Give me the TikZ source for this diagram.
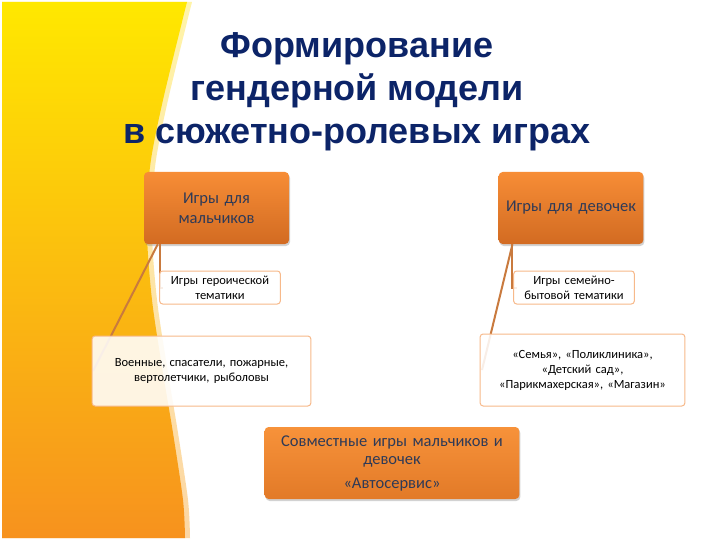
\documentclass[tikz,border=0pt]{standalone}
\usepackage{fontspec}
\setmainfont{Carlito}
\newfontfamily\titlefont{Liberation Sans}
\usetikzlibrary{shadows}
\definecolor{titleblue}{HTML}{0C2468}
\definecolor{boxtext}{HTML}{2E3A57}
\definecolor{orangetop}{HTML}{F78D36}
\definecolor{orangebot}{HTML}{D26B22}
\definecolor{orangetop2}{HTML}{F7923A}
\definecolor{orangebot2}{HTML}{E27A28}
\definecolor{lightborder}{HTML}{F7B98A}
\definecolor{conncol}{HTML}{C97A3E}
\definecolor{bgtop}{HTML}{FFE800}
\definecolor{bgbot}{HTML}{F7921E}
\definecolor{bandtop}{HTML}{FFF4A8}
\definecolor{bandbot}{HTML}{FCD6A4}
\tikzset{
  bigbox/.style={rectangle, rounded corners=4pt, top color=orangetop, bottom color=orangebot,
    text=boxtext, align=center, font=\fontsize{16.5}{20}\selectfont,
    drop shadow={shadow xshift=1pt, shadow yshift=-2pt, opacity=0.35}},
  smallbox/.style={rectangle, rounded corners=3pt, draw=lightborder, line width=1pt,
    fill=white, fill opacity=0.88, text opacity=1, text=black, align=center,
    font=\fontsize{12.5}{15}\selectfont},
  conn/.style={draw=conncol, line width=2pt}
}
\begin{document}
\begin{tikzpicture}[x=1pt,y=-1pt]
\useasboundingbox (0,0) rectangle (720,540);
\fill[white] (0,0) rectangle (720,540);
% background band and shape
\shade[top color=bandtop, bottom color=bandbot]
  (2,2) -- plot[smooth] coordinates {(192,2) (168,100) (155,167) (152,233) (157,300) (167,367) (178,433) (188,500) (190,538)} -- (2,538) -- cycle;
\shade[top color=bgtop, bottom color=bgbot]
  (2,2) -- plot[smooth] coordinates {(187,2) (163,100) (150,167) (147,233) (152,300) (162,367) (173,433) (183,500) (185,538)} -- (2,538) -- cycle;
% title
\node[anchor=north, inner sep=0pt, align=center, text=titleblue,
  font=\titlefont\bfseries\fontsize{36}{43}\selectfont] (title) at (357,32)
  {Формирование\\гендерной модели\\в сюжетно-ролевых играх};
% top boxes
\node[bigbox, minimum width=145pt, minimum height=72pt, text width=138pt] (b1) at (216.5,208) {Игры для\\мальчиков};
\node[bigbox, minimum width=144pt, minimum height=72pt, text width=138pt] (b2) at (571,208) {Игры для девочек};
% connectors
\draw[conn] ([xshift=16pt]b1.south west) |- (163,287.5);
\draw[conn] ([xshift=14pt]b1.south west) -- (93,371);
\draw[conn] ([xshift=14pt]b2.south west) |- (517,287.5);
\draw[conn] ([xshift=14pt]b2.south west) -- (482,370);
% small boxes
\node[smallbox, minimum width=116pt, minimum height=33pt, text width=114pt] (b3) at (220,287.5) {Игры героической\\тематики};
\node[smallbox, minimum width=116pt, minimum height=33pt, text width=114pt] (b5) at (574,287.5) {Игры семейно-\\бытовой тематики};
\node[smallbox, minimum width=217pt, minimum height=70pt, text width=212pt] (b4) at (201.5,371) {Военные, спасатели, пожарные,\\вертолетчики, рыболовы};
\node[smallbox, minimum width=201pt, minimum height=72pt, text width=198pt] (b6) at (582.5,370) {«Семья», «Поликлиника»,\\«Детский сад»,\\«Парикмахерская», «Магазин»};
% bottom box
\node[bigbox, top color=orangetop2, bottom color=orangebot2, minimum width=252pt, minimum height=72pt, text width=248pt, font=\fontsize{16.5}{18}\selectfont] (b7) at (392,463)
  {Совместные игры мальчиков и\\девочек\\[6pt]«Автосервис»};
\end{tikzpicture}
\end{document}
